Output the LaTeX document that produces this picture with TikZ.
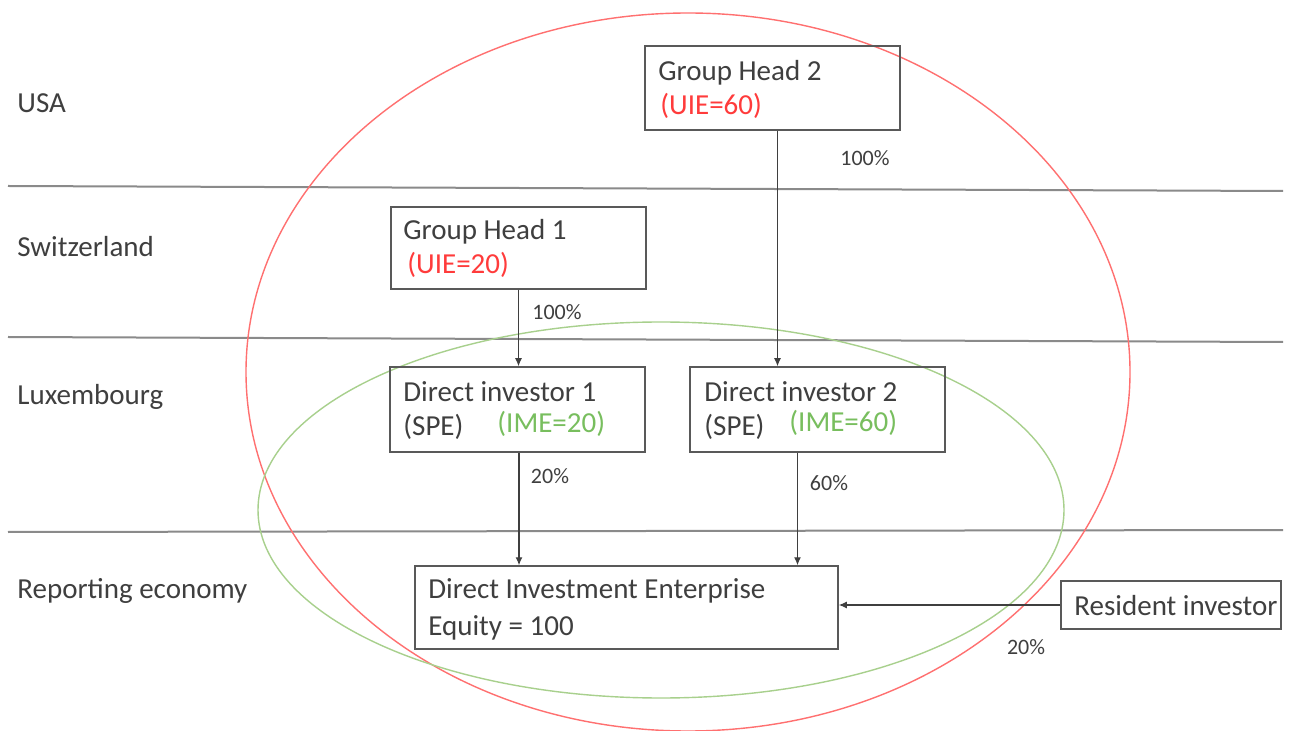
\documentclass[tikz,border=0pt]{standalone}
\usepackage{fontspec}
\setmainfont{Carlito}
\usetikzlibrary{arrows.meta}
\definecolor{txt}{HTML}{3F3F3F}
\definecolor{frame}{HTML}{595959}
\definecolor{band}{HTML}{8A8A8A}
\definecolor{uie}{HTML}{FF3B3B}
\definecolor{ime}{HTML}{78BE5E}
\definecolor{ringred}{HTML}{FF7070}
\definecolor{ringgreen}{HTML}{A8D08D}
\tikzset{
  box/.style={draw=frame, line width=0.75pt, inner sep=0pt},
  lbl/.style={anchor=west, inner sep=0pt, text=txt, font=\fontsize{14.5}{17}\selectfont},
  pct/.style={inner sep=0pt, text=txt, font=\fontsize{11}{13}\selectfont},
  arr/.style={draw=txt, line width=0.6pt, -{Latex[length=4pt,width=3.5pt]}},
  divider/.style={draw=band, line width=1pt},
}
\begin{document}
\begin{tikzpicture}[x=0.5pt, y=-0.5pt]
\useasboundingbox (0,0) rectangle (1289,731);
\fill[white] (0,0) rectangle (1289,731);

% country bands
\draw[divider] (8,186) -- (1283,191);
\draw[divider] (8,337) -- (1283,342);
\draw[divider] (8,532) -- (1283,530);

\node[lbl] (usa) at (17,103) {USA};
\node[lbl] (swiss) at (17,247) {Switzerland};
\node[lbl] (lux) at (17,397) {Luxembourg};
\node[lbl] (rep) at (17,591) {Reporting economy};

% groups
\draw[ringred, line width=0.7pt] (688,372) ellipse [x radius=442, y radius=359];
\draw[ringgreen, line width=0.7pt] (661,510) ellipse [x radius=403, y radius=188];

% entities
\node[box, minimum width=127.5pt, minimum height=42pt] (gh2) at (772.5,88) {};
\node[lbl] (gh2a) at (658,73) {Group Head 2};
\node[lbl, text=uie] (gh2b) at (660,106) {(UIE=60)};

\node[box, minimum width=127.5pt, minimum height=41pt] (gh1) at (518.5,248) {};
\node[lbl] (gh1a) at (403,232) {Group Head 1};
\node[lbl, text=uie] (gh1b) at (407,265) {(UIE=20)};

\node[box, minimum width=127.5pt, minimum height=42.5pt] (di1) at (517.5,409.5) {};
\node[lbl] (di1a) at (403,392) {Direct investor 1};
\node[lbl] (di1b) at (403,427) {(SPE)};
\node[lbl, text=ime] (di1c) at (497,424) {(IME=20)};

\node[box, minimum width=127.5pt, minimum height=42.5pt] (di2) at (817.5,409.5) {};
\node[lbl] (di2a) at (704,392) {Direct investor 2};
\node[lbl] (di2b) at (704,427) {(SPE)};
\node[lbl, text=ime] (di2c) at (789,423) {(IME=60)};

\node[box, minimum width=211.5pt, minimum height=41.5pt] (die) at (626.5,607.5) {};
\node[lbl] (diea) at (428,591) {Direct Investment Enterprise};
\node[lbl] (dieb) at (428,628) {Equity = 100};

\node[box, minimum width=110pt, minimum height=24pt] (res) at (1171,605) {};
\node[lbl] (resa) at (1074,606) {Resident investor};

% ownership links
\draw[arr] ([xshift=2.5pt]gh2.south) -- ([xshift=2.5pt]gh2.south |- di2.north);
\draw[arr] (gh1.south) -- (gh1.south |- di1.north);
\draw[arr] ([xshift=0.75pt]di1.south) -- ([xshift=0.75pt]di1.south |- die.north);
\draw[arr] ([xshift=-10pt]di2.south) -- ([xshift=-10pt]di2.south |- die.north);
\draw[arr] (res.west) -- (res.west -| die.east);

\node[pct] (p1) at (865,158) {100\%};
\node[pct] (p2) at (557,312) {100\%};
\node[pct] (p3) at (550,476) {20\%};
\node[pct] (p4) at (829,483) {60\%};
\node[pct] (p5) at (1026,647) {20\%};
\end{tikzpicture}
\end{document}
